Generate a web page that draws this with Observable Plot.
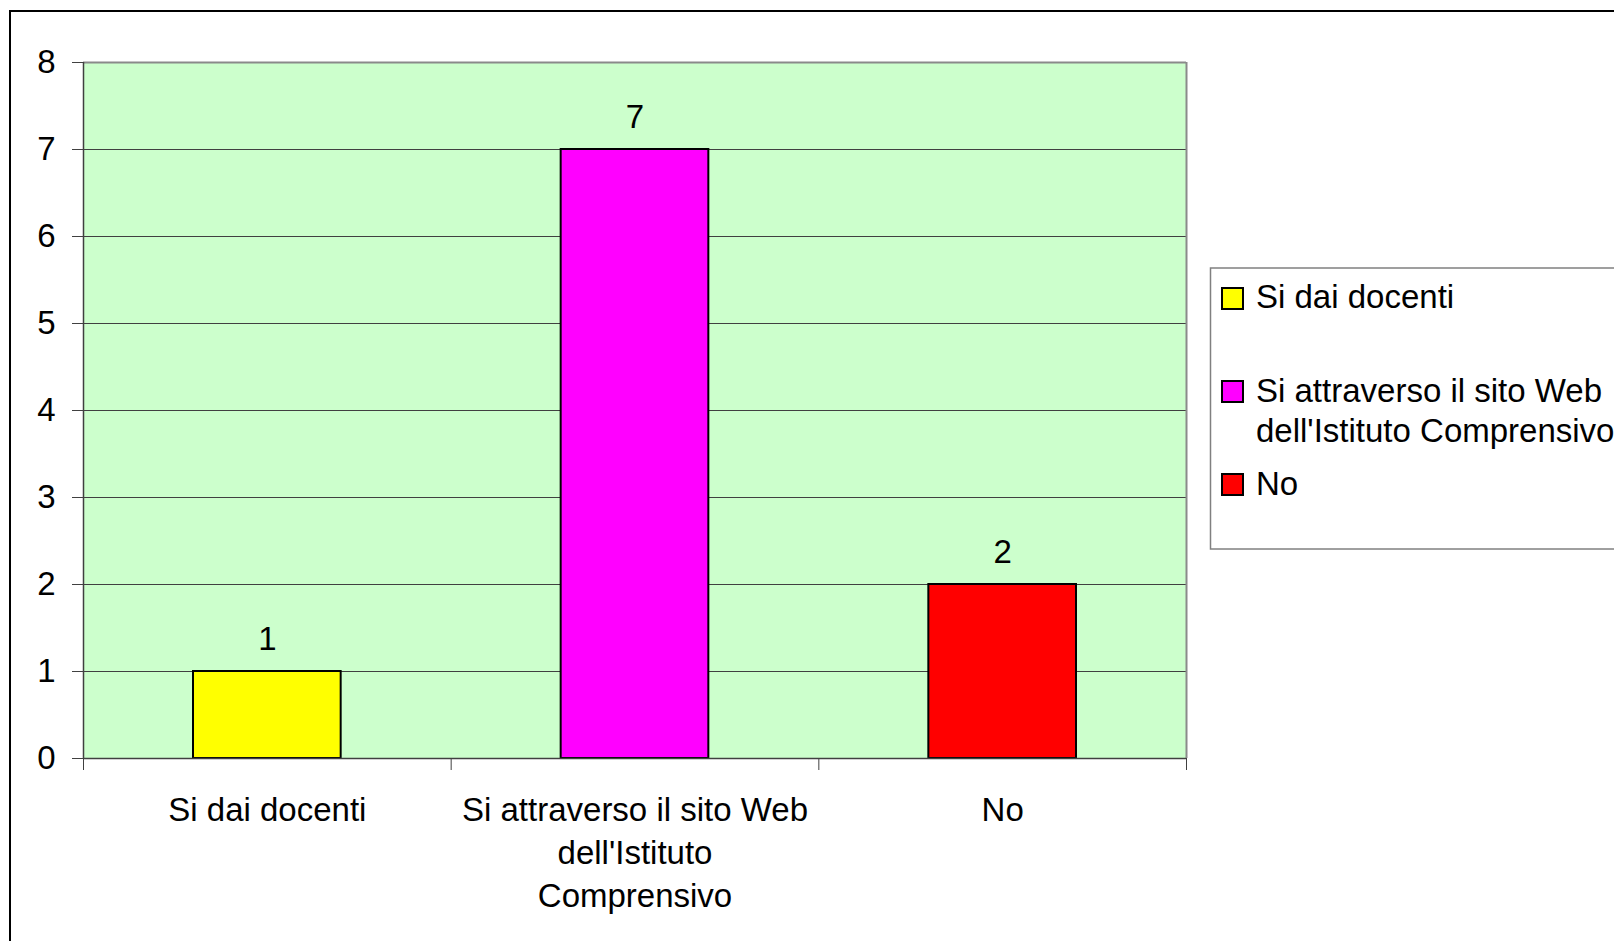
<!DOCTYPE html>
<html><head><meta charset="utf-8">
<script src="https://cdn.jsdelivr.net/npm/d3@7"></script>
<script src="https://cdn.jsdelivr.net/npm/@observablehq/plot@0.6"></script>
<style>
html,body{margin:0;padding:0;background:#fff;overflow:hidden;}
#chart svg{display:block;}
</style></head><body><div id="chart"></div>
<script>
const categories = ["Si dai docenti", "Si attraverso il sito Web dell'Istituto Comprensivo", "No"];
const values = [1, 7, 2];
const colors = ["#ffff00", "#ff00ff", "#ff0000"];
const axisLabels = ["Si dai docenti", "Si attraverso il sito Web\ndell'Istituto\nComprensivo", "No"];
const legendLabels = ["Si dai docenti", "Si attraverso il sito Web\ndell'Istituto Comprensivo", "No"];
const yTicks = [0, 1, 2, 3, 4, 5, 6, 7, 8];
const gridTicks = [1, 2, 3, 4, 5, 6, 7];
const bandEdges = [0, 1, 2, 3];

const data = categories.map((c, i) => ({cat: c, i, value: values[i], label: axisLabels[i]}));

const W = 1614, H = 941;
const font = "'Liberation Sans', Arial, Helvetica, sans-serif";

const svg = Plot.plot({
  width: W, height: H,
  marginLeft: 83, marginTop: 62, marginRight: 428, marginBottom: 183,
  style: {fontFamily: font, fontSize: "33px", color: "#000", background: "transparent", overflow: "hidden"},
  x: {type: "linear", domain: [0, 3], axis: null, label: null},
  y: {domain: [0, 8], axis: null, label: null},
  color: {domain: categories, range: colors},
  marks: [
    Plot.frame({fill: "#ccffcc", stroke: null}),
    Plot.gridY(gridTicks, {stroke: "#404040", strokeOpacity: 1, strokeWidth: 1}),
    Plot.ruleY([8], {stroke: "#8a8a8a", strokeWidth: 2}),
    Plot.ruleX([3], {stroke: "#8a8a8a", strokeWidth: 2}),
    Plot.rectY(data, {x1: "i", x2: d => d.i + 1, y: "value", fill: "cat", stroke: "#000", strokeWidth: 2, insetLeft: 110, insetRight: 110}),
    Plot.ruleX([0], {stroke: "#404040", strokeWidth: 1.5}),
    Plot.ruleY([0], {stroke: "#404040", strokeWidth: 1.5}),
    Plot.axisY(yTicks, {tickSize: 11, tickPadding: 17, stroke: "#404040", fontSize: 33, label: null, tickFormat: d3.format("d")}),
    Plot.axisX(bandEdges, {tickSize: 12, stroke: "#404040", label: null, tickFormat: () => ""}),
    Plot.text(data, {x: d => d.i + 0.5, y: "value", text: d => String(d.value), dy: -22, lineAnchor: "bottom", fontSize: 33, fill: "#000"}),
    Plot.text(data, {x: d => d.i + 0.5, frameAnchor: "bottom", text: "label", lineAnchor: "top", dy: 32, lineHeight: 1.3, fontSize: 33, fill: "#000"})
  ]
});

const root = d3.select(svg);
// outer chart border
root.append("rect").attr("x", 10).attr("y", 11).attr("width", 2000).attr("height", 2000)
  .attr("fill", "none").attr("stroke", "#000").attr("stroke-width", 2);

// legend
const lg = root.append("g").attr("font-family", font).attr("font-size", 33).attr("text-anchor", "start");
lg.append("rect").attr("x", 1210.5).attr("y", 268).attr("width", 600).attr("height", 281)
  .attr("fill", "#fff").attr("stroke", "#808080").attr("stroke-width", 1.5);
const swatchY = [288, 381, 474];
const textY = [308, 402, 495];
categories.forEach((c, i) => {
  lg.append("rect").attr("x", 1222).attr("y", swatchY[i]).attr("width", 21).attr("height", 21)
    .attr("fill", colors[i]).attr("stroke", "#000").attr("stroke-width", 2);
  const t = lg.append("text").attr("x", 1256).attr("y", textY[i]).attr("fill", "#000").attr("text-anchor", "start");
  legendLabels[i].split("\n").forEach((line, k) => {
    t.append("tspan").attr("x", 1256).attr("dy", k === 0 ? 0 : 40).text(line);
  });
});

document.getElementById("chart").appendChild(svg);
</script>
</body></html>
